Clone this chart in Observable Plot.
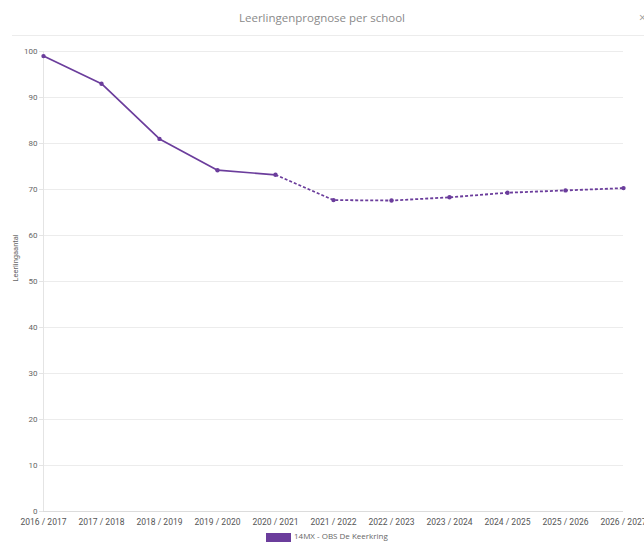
<!DOCTYPE html>
<html>
<head>
<meta charset="utf-8">
<script src="https://cdn.jsdelivr.net/npm/d3@7"></script>
<script src="https://cdn.jsdelivr.net/npm/@observablehq/plot@0.6"></script>
<style>
  html, body { margin: 0; padding: 0; background: #fff; width: 644px; height: 542px; overflow: hidden; }
  #title { position: relative; height: 35px; border-bottom: 1px solid #ececec; margin-left: 12px;
           font-family: "Open Sans", sans-serif; font-size: 11.5px; color: #8a8a8a; }
  #title .t { position: absolute; left: 0; right: 0; top: 10px; text-align: center; margin-left: -12px; }
  #title .x { position: absolute; left: 627px; top: 9px; color: #999; font-size: 12px; }
  #chart svg { display: block; overflow: visible; }
  #legend { position: relative; height: 10px; font-family: "Open Sans", sans-serif; font-size: 8px; color: #666; }
  #legend .sw { position: absolute; left: 266px; top: 1px; width: 25px; height: 9px; }
  #legend .lt { position: absolute; left: 294px; top: -2px; white-space: nowrap; }
</style>
</head>
<body>
<div id="title"><div class="t">Leerlingenprognose per school</div><div class="x">×</div></div>
<div id="chart"></div>
<div id="legend"><div class="sw"></div><div class="lt"></div></div>
<script>
const years = ["2016 / 2017","2017 / 2018","2018 / 2019","2019 / 2020","2020 / 2021","2021 / 2022","2022 / 2023","2023 / 2024","2024 / 2025","2025 / 2026","2026 / 2027"];
const actual = [99, 93, 81, 74.2, 73.2];
const forecast = [73.2, 67.7, 67.6, 68.3, 69.3, 69.8, 70.3];
const yTicks = [0,10,20,30,40,50,60,70,80,90,100];
const seriesName = "14MX - OBS De Keerkring";
const color = "#6b3d9c";

const actualData = actual.map((v, i) => ({year: years[i], value: v}));
const forecastData = forecast.map((v, i) => ({year: years[i + 4], value: v}));
const allData = actualData.concat(forecastData.slice(1));

document.querySelector("#legend .sw").style.background = color;
document.querySelector("#legend .lt").textContent = seriesName;

const chart = Plot.plot({
  width: 644,
  height: 496,
  marginLeft: 43,
  marginRight: 21,
  marginTop: 15,
  marginBottom: 21,
  style: {fontFamily: "Roboto, sans-serif", fontSize: "8px", color: "#666", background: "transparent"},
  x: {type: "point", domain: years, padding: 0},
  y: {domain: [0, 100]},
  marks: [
    Plot.gridY(yTicks, {stroke: "#ececec", strokeOpacity: 1}),
    Plot.axisY(yTicks, {tickSize: 4, stroke: "#e4e4e4", tickPadding: 2, label: null, fontSize: 8, fill: "#666"}),
    Plot.ruleY([0], {stroke: "#dcdcdc"}),
    Plot.ruleX([years[0]], {stroke: "#e4e4e4"}),
    Plot.axisX({tickSize: 0, tickPadding: 7, label: null, fontSize: 8.5, fill: "#555"}),
    Plot.text(["Leerlingaantal"], {frameAnchor: "left", dx: -28, rotate: -90, fontSize: 7.5, fill: "#666"}),
    Plot.line(actualData, {x: "year", y: "value", stroke: color, strokeWidth: 1.7}),
    Plot.line(forecastData, {x: "year", y: "value", stroke: color, strokeWidth: 1.8, strokeDasharray: "3,2", strokeLinecap: "butt"}),
    Plot.dot(allData, {x: "year", y: "value", fill: color, r: 2.2})
  ]
});
document.getElementById("chart").appendChild(chart);
</script>
</body>
</html>
